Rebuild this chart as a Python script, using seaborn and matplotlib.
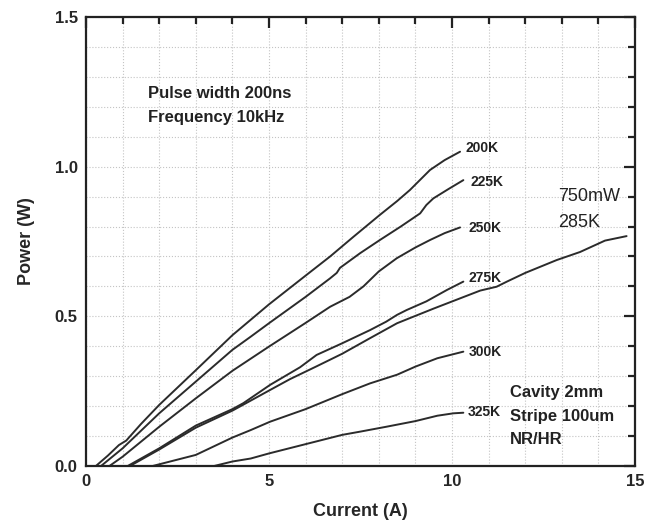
import matplotlib
matplotlib.use("Agg")
import matplotlib.pyplot as plt
import seaborn as sns
import pandas as pd
from matplotlib.ticker import MultipleLocator

# ---- data ----
i_200 = [0.27, 0.6, 0.9, 1.1, 1.5, 2.0, 3.0, 4.0, 5.0, 6.0, 6.67, 7.3, 8.03, 8.5, 8.85, 9.4, 9.8, 10.22]
p_200 = [0.0, 0.035, 0.07, 0.085, 0.14, 0.204, 0.32, 0.437, 0.54, 0.636, 0.70, 0.765, 0.839, 0.885, 0.922, 0.989, 1.022, 1.05]

i_225 = [0.41, 1.0, 2.0, 3.0, 4.0, 4.5, 5.0, 6.0, 6.67, 6.85, 6.94, 7.49, 8.03, 8.6, 9.13, 9.3, 9.49, 9.9, 10.31]
p_225 = [0.0, 0.059, 0.176, 0.282, 0.388, 0.432, 0.477, 0.565, 0.627, 0.645, 0.662, 0.711, 0.755, 0.80, 0.844, 0.872, 0.894, 0.925, 0.955]

i_250 = [0.64, 1.0, 2.0, 3.0, 4.0, 5.0, 6.0, 6.67, 7.2, 7.58, 8.0, 8.49, 9.0, 9.4, 9.8, 10.22]
p_250 = [0.0, 0.031, 0.131, 0.226, 0.318, 0.399, 0.478, 0.532, 0.565, 0.60, 0.65, 0.694, 0.73, 0.755, 0.778, 0.797]

i_275 = [1.14, 2.0, 3.0, 4.0, 4.3, 5.03, 5.85, 6.3, 7.0, 7.76, 8.2, 8.5, 8.76, 9.3, 9.86, 10.31]
p_275 = [0.0, 0.059, 0.135, 0.19, 0.21, 0.271, 0.33, 0.371, 0.41, 0.454, 0.482, 0.505, 0.521, 0.55, 0.588, 0.616]

i_285 = [1.2, 2.0, 3.0, 4.0, 4.3, 5.03, 5.57, 6.3, 7.0, 7.76, 8.5, 9.5, 10.77, 11.22, 11.5, 12.0, 12.86, 13.5, 14.18, 14.77]
p_285 = [0.0, 0.055, 0.128, 0.185, 0.205, 0.254, 0.29, 0.333, 0.375, 0.427, 0.477, 0.526, 0.586, 0.599, 0.616, 0.645, 0.688, 0.715, 0.753, 0.768]

i_300 = [1.82, 3.0, 4.0, 4.5, 5.03, 6.0, 7.0, 7.76, 8.5, 9.0, 9.6, 10.31]
p_300 = [0.0, 0.037, 0.095, 0.12, 0.148, 0.19, 0.24, 0.276, 0.305, 0.332, 0.36, 0.382]

i_325 = [3.5, 4.0, 4.5, 5.0, 6.0, 7.0, 7.5, 8.2, 9.0, 9.6, 10.04, 10.31]
p_325 = [0.0, 0.015, 0.025, 0.042, 0.073, 0.104, 0.115, 0.131, 0.15, 0.168, 0.176, 0.178]

series_names = ["200K", "225K", "250K", "275K", "285K", "300K", "325K"]
currents = [i_200, i_225, i_250, i_275, i_285, i_300, i_325]
powers = [p_200, p_225, p_250, p_275, p_285, p_300, p_325]

curve_labels = ["200K", "225K", "250K", "275K", "300K", "325K"]
x_ticks = [0, 5, 10, 15]
y_ticks = [0.0, 0.5, 1.0, 1.5]

rows = []
for name, xs, ys in zip(series_names, currents, powers):
    for x, y in zip(xs, ys):
        rows.append({"series": name, "Current": x, "Power": y})
df = pd.DataFrame(rows)

# ---- plot ----
sns.set_theme(style="white")
plt.rcParams["font.family"] = ["Liberation Sans", "DejaVu Sans"]

fig = plt.figure(figsize=(6.49, 5.25), dpi=100)
ax = fig.add_axes([86 / 649, 1 - 466 / 525, (635 - 86) / 649, (466 - 17) / 525])

sns.lineplot(data=df, x="Current", y="Power", units="series", estimator=None,
             sort=False, color="#2b2b2b", linewidth=1.4, ax=ax, legend=False)

ax.set_xlim(0, 15)
ax.set_ylim(0, 1.5)
ax.set_xticks(x_ticks)
ax.set_yticks(y_ticks)
ax.set_xticklabels([str(t) for t in x_ticks], fontweight="bold", fontsize=12)
ax.set_yticklabels([f"{t:.1f}" for t in y_ticks], fontweight="bold", fontsize=12)
ax.xaxis.set_minor_locator(MultipleLocator(1))
ax.yaxis.set_minor_locator(MultipleLocator(0.1))
ax.tick_params(which="both", direction="in", top=True, right=True,
               color="#222222", width=1.6)
ax.tick_params(which="major", length=8, pad=6)
ax.tick_params(which="minor", length=5)
ax.grid(which="both", linestyle=":", color="#c4c4c4", linewidth=0.8)
ax.set_axisbelow(True)
for s in ax.spines.values():
    s.set_color("#222222")
    s.set_linewidth(1.6)

ax.set_xlabel("Current (A)", fontweight="bold", fontsize=13, labelpad=10)
ax.set_ylabel("Power (W)", fontweight="bold", fontsize=13, labelpad=14)

label_pos = [(10.38, 1.062), (10.5, 0.949), (10.46, 0.795), (10.46, 0.628),
             (10.46, 0.381), (10.44, 0.180)]
for txt, (x, y) in zip(curve_labels, label_pos):
    ax.text(x, y, txt, fontsize=10, fontweight="bold", ha="left", va="center",
            color="#222222")

ax.text(1.69, 1.243, "Pulse width 200ns", fontsize=12, fontweight="bold",
        ha="left", va="center", color="#222222")
ax.text(1.69, 1.163, "Frequency 10kHz", fontsize=12, fontweight="bold",
        ha="left", va="center", color="#222222")

ax.text(12.9, 0.899, "750mW", fontsize=13, ha="left", va="center", color="#222222")
ax.text(12.9, 0.815, "285K", fontsize=13, ha="left", va="center", color="#222222")

for txt, y in zip(["Cavity 2mm", "Stripe 100um", "NR/HR"], [0.244, 0.164, 0.087]):
    ax.text(11.58, y, txt, fontsize=12, fontweight="bold", ha="left",
            va="center", color="#222222")

fig.savefig("out.png", dpi=100, facecolor="white")
